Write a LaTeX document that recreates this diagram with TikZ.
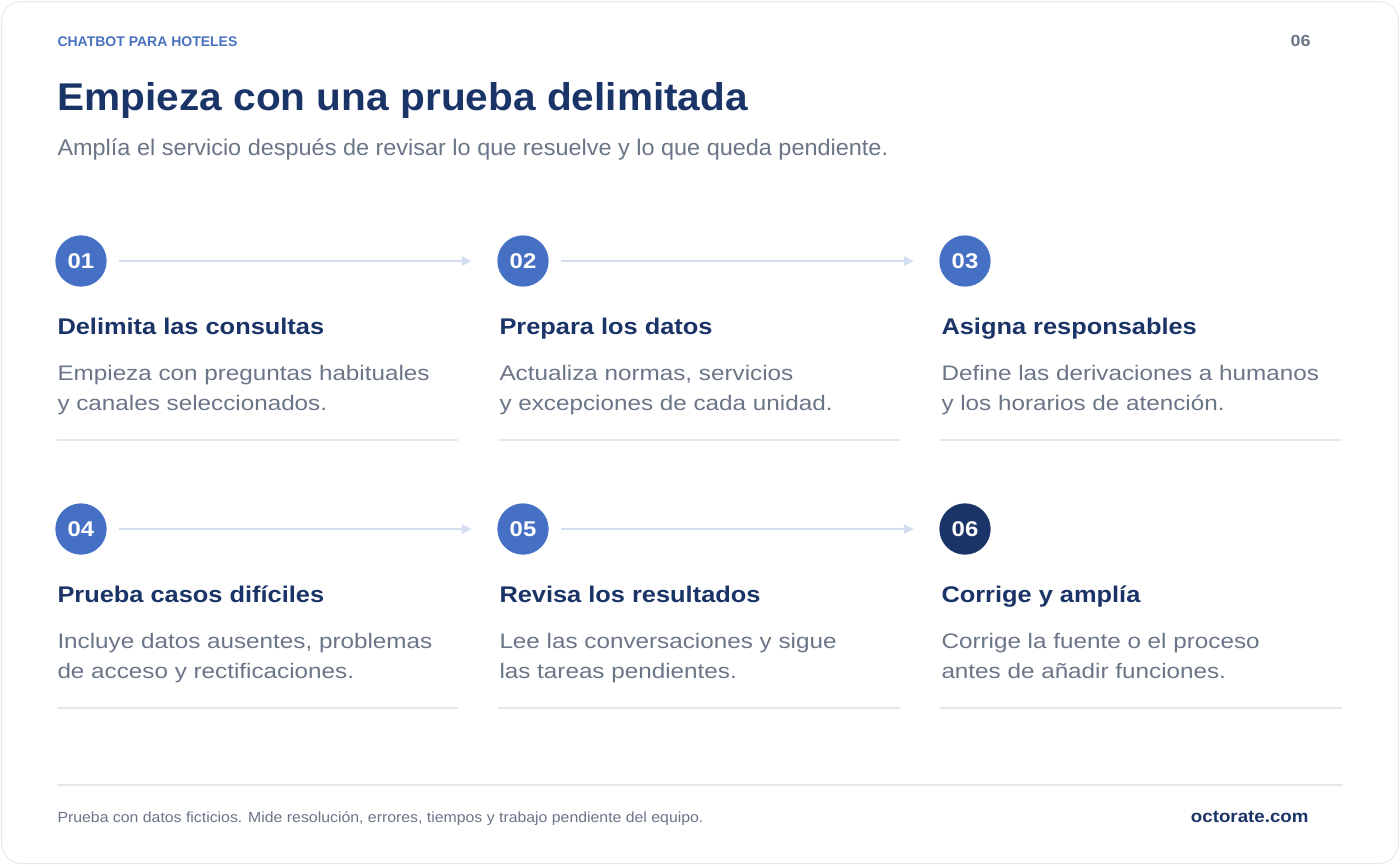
\documentclass[tikz,border=0pt]{standalone}
\usepackage{fontspec}
\setmainfont{Liberation Sans}
\newfontfamily\headfont[FakeStretch=1.05]{Liberation Sans}
\newfontfamily\subfont[FakeStretch=1.035]{Liberation Sans}
\newfontfamily\titlefont[FakeStretch=1.12]{Liberation Sans}
\newfontfamily\descfont[FakeStretch=1.155]{Liberation Sans}
\newfontfamily\footfont[FakeStretch=1.08]{Liberation Sans}
\newfontfamily\numfont[FakeStretch=1.12]{Liberation Sans}
\usetikzlibrary{arrows.meta}

\definecolor{navy}{HTML}{1B3468}
\definecolor{stepblue}{HTML}{4670C4}
\definecolor{kicker}{HTML}{4A72C0}
\definecolor{muted}{HTML}{6B7588}
\definecolor{flowline}{HTML}{D3DEF1}
\definecolor{ruleline}{HTML}{E3E7EE}
\definecolor{cardline}{HTML}{E5E8EE}

\tikzset{every picture/.style={line width=0.75pt}}
\tikzset{
  stepnum/.style={circle, fill=stepblue, text=white, minimum size=38.5pt, inner sep=0pt,
    font=\numfont\fontsize{16}{18}\selectfont\bfseries},
  steptitle/.style={anchor=base west, inner sep=0pt, text=navy,
    font=\titlefont\fontsize{17}{20}\selectfont\bfseries},
  stepdesc/.style={anchor=base west, inner sep=0pt, text=muted, align=left,
    font=\descfont\fontsize{15.75}{22.5}\selectfont},
  flow/.style={draw=flowline, line width=1.5pt, -{Triangle[length=7.5pt,width=7pt]},
    shorten <=8.5pt, shorten >=18.75pt},
  sep/.style={draw=ruleline, line width=1.5pt}
}

\begin{document}
\begin{tikzpicture}[x=0.75pt,y=0.75pt,yscale=-1,xscale=1]
\useasboundingbox (0,0) rectangle (1400,865);

%Shape: Rounded Rectangle [card]
\draw [draw=cardline, fill=white, rounded corners=15pt] (1.5,1.5) rectangle (1398.5,863.5) ;

% Text Node
\draw (57,46) node [anchor=base west][inner sep=0pt][text=kicker, font=\fontsize{10.5}{12}\selectfont\bfseries] (kickertxt) {CHATBOT PARA HOTELES};
% Text Node
\draw (1311,46) node [anchor=base east][inner sep=0pt][text=muted, font=\numfont\fontsize{12}{14}\selectfont\bfseries] (pagenum) {06};
% Text Node
\draw (57,110) node [anchor=base west][inner sep=0pt][text=navy, font=\headfont\fontsize{29}{34}\selectfont\bfseries] (headline) {Empieza con una prueba delimitada};
% Text Node
\draw (57,155) node [anchor=base west][inner sep=0pt][text=muted, font=\subfont\fontsize{17}{20}\selectfont] (subline) {Amplía el servicio después de revisar lo que resuelve y lo que queda pendiente.};

%Shape: Circle [step numbers]
\node [stepnum] (n01) at (81,261) {01};
\node [stepnum] (n02) at (523,261) {02};
\node [stepnum] (n03) at (965,261) {03};
\node [stepnum] (n04) at (81,529) {04};
\node [stepnum] (n05) at (523,529) {05};
\node [stepnum, fill=navy] (n06) at (965,529) {06};

%Straight Lines [arrows]
\draw [flow] (n01) -- (n02) ;
\draw [flow] (n02) -- (n03) ;
\draw [flow] (n04) -- (n05) ;
\draw [flow] (n05) -- (n06) ;

% Text Node
\draw (57,334) node [steptitle] (t01) {Delimita las consultas};
% Text Node
\draw (499,334) node [steptitle] (t02) {Prepara los datos};
% Text Node
\draw (941,334) node [steptitle] (t03) {Asigna responsables};
% Text Node
\draw (57,410) node [stepdesc] (d01) {Empieza con preguntas habituales\\y canales seleccionados.};
% Text Node
\draw (499,410) node [stepdesc] (d02) {Actualiza normas, servicios\\y excepciones de cada unidad.};
% Text Node
\draw (941,410) node [stepdesc] (d03) {Define las derivaciones a humanos\\y los horarios de atención.};

%Straight Lines [separators]
\draw [sep] (57,440) -- (458,440) ;
\draw [sep] (498,440) -- (900,440) ;
\draw [sep] (940,440) -- (1342,440) ;

% Text Node
\draw (57,602) node [steptitle] (t04) {Prueba casos difíciles};
% Text Node
\draw (499,602) node [steptitle] (t05) {Revisa los resultados};
% Text Node
\draw (941,602) node [steptitle] (t06) {Corrige y amplía};
% Text Node
\draw (57,678) node [stepdesc] (d04) {Incluye datos ausentes, problemas\\de acceso y rectificaciones.};
% Text Node
\draw (499,678) node [stepdesc] (d05) {Lee las conversaciones y sigue\\las tareas pendientes.};
% Text Node
\draw (941,678) node [stepdesc] (d06) {Corrige la fuente o el proceso\\antes de añadir funciones.};

%Straight Lines [separators]
\draw [sep] (57,708) -- (458,708) ;
\draw [sep] (498,708) -- (900,708) ;
\draw [sep] (940,708) -- (1342,708) ;

%Straight Lines [footer rule]
\draw [sep] (57,785) -- (1343,785) ;

% Text Node
\draw (57,822) node [anchor=base west][inner sep=0pt][text=muted, font=\footfont\fontsize{11}{13}\selectfont] (footnote) {Prueba con datos ficticios. Mide resolución, errores, tiempos y trabajo pendiente del equipo.};
% Text Node
\draw (1309,822) node [anchor=base east][inner sep=0pt][text=navy, font=\footfont\fontsize{13}{15}\selectfont\bfseries] (brand) {octorate.com};

\end{tikzpicture}
\end{document}
